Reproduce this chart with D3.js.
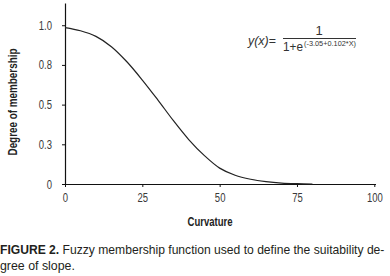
<!DOCTYPE html>
<html>
<head>
<meta charset="utf-8">
<script src="https://cdn.jsdelivr.net/npm/d3@7"></script>
<style>
  body { margin: 0; background: #fff; }
  svg { display: block; }
  text { font-family: "Liberation Sans", Arial, sans-serif; }
</style>
</head>
<body>
<script>
const w = 390; // width of page
const h = 276; // height of page
const margin = { top: 3, right: 15, bottom: 92, left: 65 };

// values
const curvature = [0, 5, 10, 15, 20, 25, 30, 35, 40, 45, 50, 55, 60, 65, 70, 75, 80];
const membership = [0.985, 0.965, 0.93, 0.865, 0.77, 0.655, 0.53, 0.4, 0.28, 0.18, 0.1, 0.055, 0.03, 0.015, 0.006, 0.002, 0];

const xTicks = [0, 25, 50, 75, 100];
const yTicks = [0, 0.25, 0.5, 0.75, 1.0];
const yTickLabels = ["0", "0.3", "0.5", "0.8", "1.0"];

const data = curvature.map((c, i) => ({ x: c, y: membership[i] }));

// squeeze a text horizontally to look like a narrow face
function narrow(sel, k) {
    sel.each(function() {
        const len = this.getComputedTextLength();
        d3.select(this)
            .attr("textLength", len * k)
            .attr("lengthAdjust", "spacingAndGlyphs");
    });
}

const svg = d3.select("body")
    .append("svg")
    .attr("width", w)
    .attr("height", h);

const xScale = d3.scaleLinear()
    .domain([0, 100])
    .range([margin.left, 374.3]);

const yScale = d3.scaleLinear()
    .domain([0, 1.14])
    .range([h - margin.bottom, margin.top]);

// Axes
const xAxis = d3.axisBottom(xScale)
    .tickValues(xTicks)
    .tickSize(3)
    .tickPadding(6)
    .tickSizeOuter(0);

const yAxis = d3.axisLeft(yScale)
    .tickValues(yTicks)
    .tickFormat((d, i) => yTickLabels[i])
    .tickSize(3)
    .tickPadding(10)
    .tickSizeOuter(0);

const gx = svg.append("g")
    .attr("transform", `translate(0,${h - margin.bottom})`)
    .call(xAxis);

const gy = svg.append("g")
    .attr("transform", `translate(${margin.left},0)`)
    .call(yAxis);

[gx, gy].forEach(g => {
    g.select(".domain").attr("stroke", "#111").attr("stroke-width", 1.2);
    g.selectAll(".tick line").attr("stroke", "#111");
    g.selectAll(".tick text")
        .attr("fill", "#3a3a3a")
        .style("font-size", "12.5px")
        .style("font-family", "Liberation Sans, Arial, sans-serif")
        .call(narrow, 0.76);
});
gx.select(".domain").attr("d", `M${margin.left},0.5H376`);

// Curve
const line = d3.line()
    .x(d => xScale(d.x))
    .y(d => yScale(d.y))
    .curve(d3.curveCatmullRom);

svg.append("path")
    .datum(data)
    .attr("d", line)
    .attr("fill", "none")
    .attr("stroke", "#222")
    .attr("stroke-width", 1.2);

// Axis titles
svg.append("text")
    .attr("transform", `translate(17,102) rotate(-90)`)
    .attr("text-anchor", "middle")
    .style("font-size", "12px")
    .style("font-weight", "bold")
    .attr("fill", "#222")
    .attr("textLength", 107)
    .attr("lengthAdjust", "spacingAndGlyphs")
    .text("Degree of membership");

svg.append("text")
    .attr("x", 210)
    .attr("y", 226)
    .attr("text-anchor", "middle")
    .style("font-size", "12px")
    .style("font-weight", "bold")
    .attr("fill", "#222")
    .attr("textLength", 45)
    .attr("lengthAdjust", "spacingAndGlyphs")
    .text("Curvature");

// Formula
const f = svg.append("g").attr("fill", "#333");
const lhs = f.append("text")
    .attr("x", 248).attr("y", 45)
    .style("font-size", "13px")
    .attr("textLength", 28)
    .attr("lengthAdjust", "spacingAndGlyphs");
lhs.append("tspan").style("font-style", "italic").text("y(x)");
lhs.append("tspan").text("=");
f.append("text")
    .attr("x", 319).attr("y", 35)
    .attr("text-anchor", "middle")
    .style("font-size", "13px")
    .text("1");
f.append("line")
    .attr("x1", 283).attr("x2", 356)
    .attr("y1", 38.5).attr("y2", 38.5)
    .attr("stroke", "#333").attr("stroke-width", 1);
f.append("text")
    .attr("x", 283).attr("y", 51)
    .style("font-size", "13px")
    .attr("textLength", 20)
    .attr("lengthAdjust", "spacingAndGlyphs")
    .text("1+e");
f.append("text")
    .attr("x", 304).attr("y", 46)
    .style("font-size", "7.5px")
    .attr("textLength", 52)
    .attr("lengthAdjust", "spacingAndGlyphs")
    .text("(-3.05+0.102*X)");

// Caption: scaled horizontally to the width of the narrow face
function caption(y, width, build) {
    const t = svg.append("text")
        .attr("x", 0).attr("y", y)
        .attr("fill", "#231f20")
        .style("font-size", "12.5px");
    build(t);
    const len = t.node().getComputedTextLength();
    t.attr("transform", `scale(${width / len},1)`);
}
caption(254, 385, t => {
    t.append("tspan").style("font-weight", "bold").text("FIGURE 2.");
    t.append("tspan").text(" Fuzzy membership function used to define the suitability de-");
});
caption(270, 75, t => t.text("gree of slope."));
</script>
</body>
</html>
